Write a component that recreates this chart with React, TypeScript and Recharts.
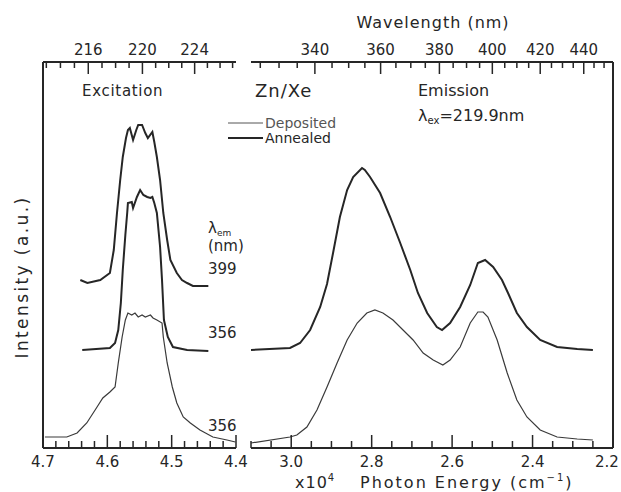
import { LineChart, Line, XAxis, YAxis, ReferenceLine } from "recharts";

const INK = "#262626";
const FONT = "'DejaVu Sans', sans-serif";

// Excitation spectra (x-axis in 10^4 cm^-1), intensity in a.u.
const exc399Energy = [4.642, 4.631, 4.611, 4.596, 4.590, 4.585, 4.580, 4.576, 4.571, 4.568, 4.565, 4.560, 4.555, 4.552, 4.546, 4.541, 4.537, 4.530, 4.527, 4.523, 4.518, 4.513, 4.507, 4.502, 4.492, 4.484, 4.476, 4.467, 4.443];
const exc399Intensity = [168, 165, 168, 175, 198, 235, 268, 291, 310, 318, 320, 308, 318, 323, 323, 315, 310, 316, 306, 291, 268, 235, 208, 188, 175, 168, 165, 162, 162];

const exc356aEnergy = [4.639, 4.596, 4.588, 4.583, 4.579, 4.576, 4.572, 4.569, 4.568, 4.562, 4.560, 4.554, 4.549, 4.544, 4.538, 4.533, 4.530, 4.527, 4.523, 4.518, 4.515, 4.512, 4.506, 4.498, 4.476, 4.443];
const exc356aIntensity = [98, 100, 105, 118, 145, 178, 213, 236, 245, 246, 240, 251, 258, 253, 251, 250, 251, 245, 235, 201, 168, 128, 111, 101, 98, 97];

const exc356dEnergy = [4.697, 4.663, 4.647, 4.632, 4.616, 4.607, 4.596, 4.588, 4.583, 4.577, 4.572, 4.568, 4.562, 4.557, 4.552, 4.546, 4.541, 4.533, 4.529, 4.523, 4.515, 4.513, 4.507, 4.499, 4.492, 4.482, 4.471, 4.456, 4.436, 4.414, 4.401];
const exc356dIntensity = [11, 11, 15, 25, 41, 50, 56, 61, 85, 111, 128, 135, 133, 135, 131, 133, 131, 133, 130, 128, 125, 111, 85, 61, 45, 31, 25, 18, 11, 8, 6];

// Emission spectra, excited at 219.9 nm
const emAnnEnergy = [3.100, 3.003, 2.978, 2.953, 2.928, 2.911, 2.896, 2.879, 2.861, 2.846, 2.824, 2.817, 2.804, 2.779, 2.754, 2.729, 2.704, 2.685, 2.662, 2.638, 2.625, 2.605, 2.580, 2.555, 2.536, 2.518, 2.498, 2.476, 2.461, 2.439, 2.414, 2.381, 2.339, 2.289, 2.250];
const emAnnIntensity = [98, 100, 105, 118, 141, 164, 195, 231, 258, 271, 280, 278, 271, 255, 231, 205, 178, 155, 135, 121, 118, 125, 141, 163, 185, 188, 181, 168, 155, 135, 121, 108, 101, 99, 98];

const emDepEnergy = [3.100, 3.003, 2.986, 2.961, 2.936, 2.911, 2.886, 2.861, 2.836, 2.812, 2.792, 2.772, 2.747, 2.722, 2.697, 2.672, 2.647, 2.623, 2.605, 2.580, 2.555, 2.536, 2.523, 2.511, 2.488, 2.463, 2.439, 2.414, 2.381, 2.339, 2.289, 2.250];
const emDepIntensity = [5, 11, 13, 21, 38, 61, 85, 108, 125, 135, 138, 135, 128, 118, 108, 95, 88, 83, 88, 101, 125, 136, 136, 131, 108, 75, 48, 31, 18, 11, 9, 8];

// axis ticks
const leftEnergyTicks = [4.7, 4.68, 4.66, 4.64, 4.62, 4.6, 4.58, 4.56, 4.54, 4.52, 4.5, 4.48, 4.46, 4.44, 4.42, 4.4];
const leftEnergyMajor = [4.7, 4.6, 4.5, 4.4];
const leftNmTicks = [213, 214, 215, 216, 217, 218, 219, 220, 221, 222, 223, 224, 225, 226, 227];
const leftNmMajor = [216, 220, 224];
const rightEnergyTicks = [3.1, 3.05, 3.0, 2.95, 2.9, 2.85, 2.8, 2.75, 2.7, 2.65, 2.6, 2.55, 2.5, 2.45, 2.4, 2.35, 2.3, 2.25, 2.2];
const rightEnergyMajor = [3.0, 2.8, 2.6, 2.4, 2.2];
const rightNmTicks = [325, 330, 335, 340, 345, 350, 355, 360, 365, 370, 375, 380, 385, 390, 395, 400, 405, 410, 415, 420, 425, 430, 435, 440, 445, 450];
const rightNmMajor = [340, 360, 380, 400, 420, 440];

const rows = (e: number[], v: number[]) => e.map((x, i) => ({ e: x, v: v[i] }));
const nmToEnergy = (nm: number) => 1000 / nm;
const isIn = (list: number[], v: number) => list.some((m) => Math.abs(m - v) < 1e-6);

const TOP = 62;
const BOTTOM = 448;

const textStyle = { fontFamily: FONT, fontSize: 15, fill: INK };

function BottomTick(props: any) {
  const { x, payload, majors, edge } = props;
  const major = isIn(majors, payload.value);
  // last label sits at the page edge, nudge it in
  const dx = edge !== undefined && Math.abs(payload.value - edge) < 1e-6 ? -6 : 0;
  return (
    <g>
      <line x1={x} x2={x} y1={BOTTOM} y2={BOTTOM - (major ? 13 : 7)} stroke={INK} strokeWidth={1.5} />
      {major && (
        <text x={x + dx} y={467} textAnchor="middle" style={textStyle}>
          {payload.value.toFixed(1)}
        </text>
      )}
    </g>
  );
}

function TopTick(props: any) {
  const { x, payload, majors } = props;
  const nm = Math.round(1000 / payload.value);
  const major = isIn(majors, nm);
  return (
    <g>
      <line x1={x} x2={x} y1={TOP} y2={TOP + (major ? 12 : 6)} stroke={INK} strokeWidth={1.5} />
      {major && (
        <text x={x} y={55} textAnchor="middle" style={textStyle}>
          {nm}
        </text>
      )}
    </g>
  );
}

const axisLine = { stroke: INK, strokeWidth: 2 };

export default function App() {
  return (
    <div style={{ position: "absolute", left: 0, top: 0, width: 621, height: 492, background: "#fff" }}>
      <div style={{ position: "absolute", left: 0, top: 0 }}>
        <LineChart width={260} height={492} margin={{ top: TOP - 20, right: 24, bottom: 492 - BOTTOM - 20, left: 43 }}>
          <XAxis xAxisId="bottom" dataKey="e" type="number" domain={[4.4, 4.7]} reversed allowDataOverflow
            ticks={leftEnergyTicks} interval={0} height={20} axisLine={axisLine} tickLine={false}
            tick={(p: any) => <BottomTick {...p} majors={leftEnergyMajor} />} />
          <XAxis xAxisId="top" orientation="top" dataKey="e" type="number" domain={[4.4, 4.7]} reversed allowDataOverflow
            ticks={leftNmTicks.map(nmToEnergy)} interval={0} height={20} axisLine={axisLine} tickLine={false}
            tick={(p: any) => <TopTick {...p} majors={leftNmMajor} />} />
          <YAxis hide type="number" domain={[0, 386]} allowDataOverflow />
          <ReferenceLine xAxisId="bottom" x={4.7} stroke={INK} strokeWidth={2} />
          <Line xAxisId="bottom" data={rows(exc399Energy, exc399Intensity)} dataKey="v" type="linear" stroke={INK} strokeWidth={2} dot={false} isAnimationActive={false} />
          <Line xAxisId="bottom" data={rows(exc356aEnergy, exc356aIntensity)} dataKey="v" type="linear" stroke={INK} strokeWidth={2} dot={false} isAnimationActive={false} />
          <Line xAxisId="top" data={rows(exc356dEnergy, exc356dIntensity)} dataKey="v" type="linear" stroke="#3a3a3a" strokeWidth={1.2} dot={false} isAnimationActive={false} />
        </LineChart>
      </div>
      <div style={{ position: "absolute", left: 220, top: 0 }}>
        <LineChart width={401} height={492} margin={{ top: TOP - 20, right: 8, bottom: 492 - BOTTOM - 20, left: 31 }}>
          <XAxis xAxisId="bottom" dataKey="e" type="number" domain={[2.2, 3.1]} reversed allowDataOverflow
            ticks={rightEnergyTicks} interval={0} height={20} axisLine={axisLine} tickLine={false}
            tick={(p: any) => <BottomTick {...p} majors={rightEnergyMajor} edge={2.2} />} />
          <XAxis xAxisId="top" orientation="top" dataKey="e" type="number" domain={[2.2, 3.1]} reversed allowDataOverflow
            ticks={rightNmTicks.map(nmToEnergy)} interval={0} height={20} axisLine={axisLine} tickLine={false}
            tick={(p: any) => <TopTick {...p} majors={rightNmMajor} />} />
          <YAxis hide type="number" domain={[0, 386]} allowDataOverflow />
          <ReferenceLine xAxisId="bottom" x={2.2} stroke={INK} strokeWidth={2} />
          <Line xAxisId="bottom" data={rows(emAnnEnergy, emAnnIntensity)} dataKey="v" type="linear" stroke={INK} strokeWidth={2} dot={false} isAnimationActive={false} />
          <Line xAxisId="top" data={rows(emDepEnergy, emDepIntensity)} dataKey="v" type="linear" stroke="#3a3a3a" strokeWidth={1.2} dot={false} isAnimationActive={false} />
        </LineChart>
      </div>
      <svg width={621} height={492} style={{ position: "absolute", left: 0, top: 0, pointerEvents: "none" }}>
        <g style={{ fontFamily: FONT, fill: INK }}>
          <text x={433} y={28} textAnchor="middle" fontSize={16} letterSpacing={1}>Wavelength  (nm)</text>
          <text x={82} y={96} fontSize={15} letterSpacing={0.7}>Excitation</text>
          <text x={255} y={97} fontSize={18} letterSpacing={1}>Zn/Xe</text>
          <text x={418} y={96} fontSize={16}>Emission</text>
          <text x={418} y={121} fontSize={16}>
            λ<tspan fontSize={10} dy={3}>ex</tspan><tspan dy={-3}>=219.9nm</tspan>
          </text>
          <line x1={228} x2={263} y1={123} y2={123} stroke="#555" strokeWidth={1} />
          <text x={265} y={128} fontSize={14} fill="#555">Deposited</text>
          <line x1={228} x2={263} y1={138} y2={138} stroke={INK} strokeWidth={2} />
          <text x={265} y={143} fontSize={14}>Annealed</text>
          <text x={208} y={233} fontSize={15}>
            λ<tspan fontSize={9} dy={3}>em</tspan>
          </text>
          <text x={208} y={251} fontSize={15}>(nm)</text>
          <text x={208} y={274} fontSize={15}>399</text>
          <text x={208} y={338} fontSize={15}>356</text>
          <text x={208} y={431} fontSize={15}>356</text>
          <text x={0} y={0} transform="translate(28 277) rotate(-90)" textAnchor="middle" fontSize={17} letterSpacing={2.4}>
            Intensity  (a.u.)
          </text>
          <text x={295} y={488} fontSize={16} letterSpacing={1}>
            x10<tspan fontSize={10} dy={-7}>4</tspan>
          </text>
          <text x={360} y={488} fontSize={16} letterSpacing={2}>
            Photon Energy  (cm<tspan fontSize={10} dy={-7}>−1</tspan><tspan dy={7}>)</tspan>
          </text>
        </g>
      </svg>
    </div>
  );
}
